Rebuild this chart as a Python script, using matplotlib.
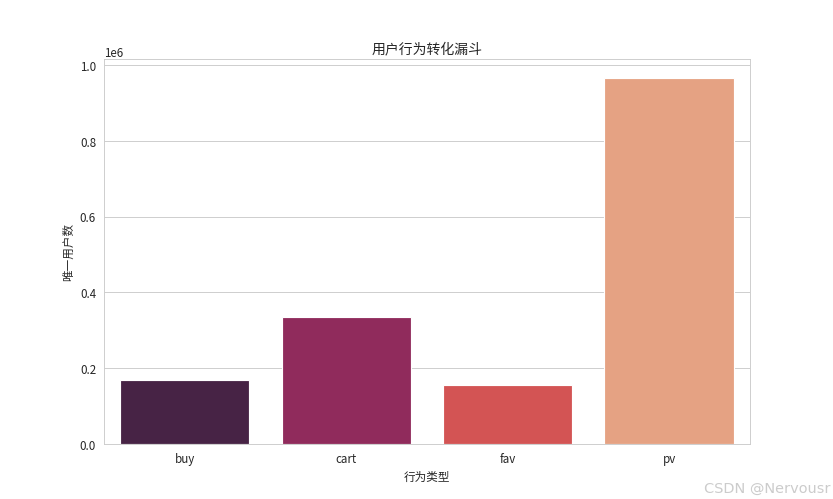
import matplotlib
matplotlib.use("Agg")
import matplotlib.pyplot as plt
import seaborn as sns
import pandas as pd

# 行为类型 与 唯一用户数
behavior = ["buy", "cart", "fav", "pv"]
users = [168000, 335000, 157000, 967000]

sns.set_style("whitegrid")
plt.rcParams['font.family'] = ['Noto Sans CJK SC', 'DejaVu Sans']
plt.rcParams['axes.unicode_minus'] = False

df = pd.DataFrame({"behavior_type": behavior, "user_id": users})

# 原图为 10x6 英寸，缩放到 833x500
fig, ax = plt.subplots(figsize=(10, 6), dpi=83.3)
sns.barplot(data=df, x="behavior_type", y="user_id", hue="behavior_type",
            palette="rocket", legend=False, ax=ax)
ax.set_title("用户行为转化漏斗")
ax.set_xlabel("行为类型")
ax.set_ylabel("唯一用户数")

fig.text(0.997, 0.008, "CSDN @Nervousr", ha="right", va="bottom",
         fontsize=12.5, color="#cccccc", family=["DejaVu Sans"])

fig.savefig("out.png", dpi=83.3)
